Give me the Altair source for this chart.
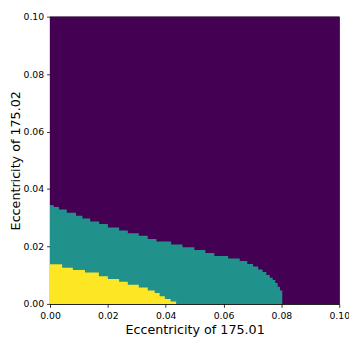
import altair as alt
import pandas as pd

# Step boundary of the teal (middle) region: x edges and heights
teal_x = [0.0, 0.0013, 0.0031, 0.0058, 0.0090, 0.0112, 0.0139, 0.0170, 0.0200, 0.0239,
          0.0269, 0.0307, 0.0338, 0.0368, 0.0419, 0.0458, 0.0499, 0.0537, 0.0568, 0.0616,
          0.0656, 0.0682, 0.0702, 0.0720, 0.0735, 0.0748, 0.0760, 0.0770, 0.0779, 0.0787,
          0.0795, 0.0803]
teal_h = [0.0344, 0.0337, 0.0329, 0.0317, 0.0307, 0.0297, 0.0287, 0.0278, 0.0266, 0.0256,
          0.0246, 0.0237, 0.0226, 0.0217, 0.0207, 0.0197, 0.0188, 0.0177, 0.0167, 0.0158,
          0.0149, 0.0139, 0.0130, 0.0120, 0.0111, 0.0101, 0.0091, 0.0083, 0.0073, 0.0060,
          0.0047]

# Step boundary of the yellow (inner) region
yellow_x = [0.0, 0.0042, 0.0079, 0.0121, 0.0169, 0.0200, 0.0239, 0.0269, 0.0307, 0.0338,
            0.0362, 0.0379, 0.0397, 0.0417, 0.0436]
yellow_h = [0.0138, 0.0126, 0.0118, 0.0109, 0.0096, 0.0087, 0.0077, 0.0067, 0.0057, 0.0047,
            0.0038, 0.0027, 0.0017, 0.0008]

ticks = [0.0, 0.02, 0.04, 0.06, 0.08, 0.1]
colors = {"outer": "#440154", "mid": "#21918c", "inner": "#fde725"}

bg = pd.DataFrame({"x0": [0.0], "x1": [0.1], "y0": [0.0], "y1": [0.1]})
# each step is drawn from x=0 to its right edge; the overlapping same-colour
# rectangles form the staircase without seams between neighbouring steps
teal = pd.DataFrame({"x0": 0.0, "x1": teal_x[1:], "y0": 0.0, "y1": teal_h})
yellow = pd.DataFrame({"x0": 0.0, "x1": yellow_x[1:], "y0": 0.0, "y1": yellow_h})

xs = alt.Scale(domain=[0, 0.1], nice=False, zero=False)
ys = alt.Scale(domain=[0, 0.1], nice=False, zero=False)

X = alt.X("x0:Q", scale=xs, title="Eccentricity of 175.01",
          axis=alt.Axis(values=ticks, format=".2f"))
Y = alt.Y("y0:Q", scale=ys, title="Eccentricity of 175.02",
          axis=alt.Axis(values=ticks, format=".2f"))


def layer(df, color):
    return alt.Chart(df).mark_rect(color=color, strokeWidth=0).encode(
        x=X, x2="x1:Q", y=Y, y2="y1:Q"
    )


chart = alt.layer(
    layer(bg, colors["outer"]),
    layer(teal, colors["mid"]),
    layer(yellow, colors["inner"]),
).properties(
    width=296, height=294,
    autosize=alt.AutoSizeParams(type="none"),
    padding={"left": 43, "top": 5, "right": 10, "bottom": 30},
).configure_view(
    stroke="black", strokeWidth=0.8
).configure_axis(
    grid=False, domainColor="black", domainWidth=0.8, tickColor="black",
    tickWidth=0.8, tickSize=3.5, labelColor="black", labelFont="DejaVu Sans",
    labelFontSize=9.5, titleFont="DejaVu Sans", titleFontSize=13,
    titleFontWeight="normal", titleColor="black", labelPadding=3,
).configure_axisX(
    titlePadding=4, labelFlush=False
).configure_axisY(
    titlePadding=1, labelFlush=False
)

chart.save("out.html", embed_options={"renderer": "svg", "actions": False})
